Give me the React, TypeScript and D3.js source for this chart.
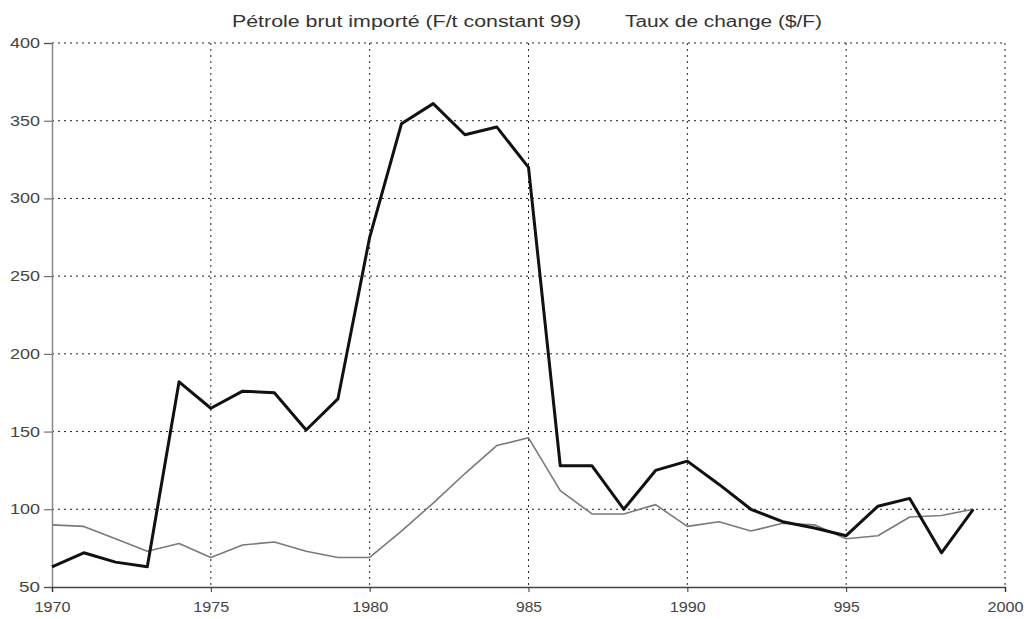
import React, { useEffect, useRef } from 'react';
import * as d3 from 'd3';

const years = [
  1970, 1971, 1972, 1973, 1974, 1975, 1976, 1977, 1978, 1979,
  1980, 1981, 1982, 1983, 1984, 1985, 1986, 1987, 1988, 1989,
  1990, 1991, 1992, 1993, 1994, 1995, 1996, 1997, 1998, 1999,
];

// Pétrole brut importé (F/t constant 99)
const petrole = [
  63, 72, 66, 63, 182, 165, 176, 175, 151, 171,
  275, 348, 361, 341, 346, 320, 128, 128, 100, 125,
  131, 116, 100, 92, 88, 83, 102, 107, 72, 100,
];

// Taux de change ($/F)
const taux = [
  90, 89, 81, 73, 78, 69, 77, 79, 73, 69,
  69, 86, 104, 123, 141, 146, 112, 97, 97, 103,
  89, 92, 86, 91, 90, 81, 83, 95, 96, 100,
];

const xTicks = [1970, 1975, 1980, 1985, 1990, 1995, 2000];
const xTickLabels = ['1970', '1975', '1980', '985', '1990', '995', '2000'];
const yTicks = [50, 100, 150, 200, 250, 300, 350, 400];
const seriesNames = ['Pétrole brut importé (F/t constant 99)', 'Taux de change ($/F)'];

const App: React.FC = () => {
  const svgRef = useRef<SVGSVGElement>(null);
  const width = 1027;
  const height = 619;

  useEffect(() => {
    if (!svgRef.current) return;
    const svg = d3.select(svgRef.current);
    svg.selectAll('*').remove();

    const font = '"Liberation Sans", Arial, sans-serif';
    const x = d3.scaleLinear().domain([1970, 2000]).range([52, 1005]);
    const y = d3.scaleLinear().domain([50, 400]).range([587, 43]);

    // grid lines
    svg.append('g')
      .selectAll('line')
      .data(yTicks.filter(d => d > 50))
      .enter().append('line')
      .attr('x1', x(1970))
      .attr('x2', x(2000))
      .attr('y1', d => y(d))
      .attr('y2', d => y(d))
      .attr('stroke', '#222')
      .attr('stroke-width', 1)
      .attr('stroke-dasharray', '2,4');

    svg.append('g')
      .selectAll('line')
      .data(xTicks.filter(d => d > 1970))
      .enter().append('line')
      .attr('x1', d => x(d))
      .attr('x2', d => x(d))
      .attr('y1', y(400))
      .attr('y2', y(50))
      .attr('stroke', '#222')
      .attr('stroke-width', 1)
      .attr('stroke-dasharray', '2,4');

    // y axis
    const yAxis = svg.append('g')
      .attr('transform', `translate(${x(1970)},0)`)
      .call(d3.axisLeft(y).tickValues(yTicks).tickSize(8).tickPadding(4).tickFormat(d => String(d)));
    yAxis.select('.domain').attr('stroke', '#888').attr('stroke-width', 1.5);
    yAxis.selectAll('.tick line').attr('stroke', '#555');
    yAxis.selectAll('text')
      .attr('font-family', font)
      .attr('font-size', 14)
      .attr('fill', '#444')
      .attr('textLength', d => (String(d).length === 3 ? 30 : 21))
      .attr('lengthAdjust', 'spacingAndGlyphs');

    // x axis
    const xAxis = svg.append('g')
      .attr('transform', `translate(0,${y(50)})`)
      .call(d3.axisBottom(x).tickValues(xTicks).tickSize(5).tickPadding(10)
        .tickFormat((d, i) => xTickLabels[i]));
    xAxis.select('.domain').attr('stroke', '#444').attr('stroke-width', 1.5);
    xAxis.selectAll('.tick line').attr('stroke', '#333');
    xAxis.selectAll('text')
      .attr('font-family', font)
      .attr('font-size', 14)
      .attr('fill', '#444')
      .attr('textLength', (_, i) => (xTickLabels[i].length === 4 ? 36 : 26))
      .attr('lengthAdjust', 'spacingAndGlyphs');

    const line = d3.line<number>()
      .x((_, i) => x(years[i]))
      .y(d => y(d));

    svg.append('path')
      .datum(taux)
      .attr('fill', 'none')
      .attr('stroke', '#7a7a7a')
      .attr('stroke-width', 1.6)
      .attr('stroke-linejoin', 'round')
      .attr('d', line);

    svg.append('path')
      .datum(petrole)
      .attr('fill', 'none')
      .attr('stroke', '#111')
      .attr('stroke-width', 3)
      .attr('stroke-linejoin', 'round')
      .attr('d', line);

    // legend (text only)
    const legendPos = [{ x: 232, w: 349 }, { x: 625, w: 197 }];
    seriesNames.forEach((name, i) => {
      svg.append('text')
        .attr('x', legendPos[i].x)
        .attr('y', 27)
        .attr('font-family', font)
        .attr('font-size', 16)
        .attr('fill', '#333')
        .attr('textLength', legendPos[i].w)
        .attr('lengthAdjust', 'spacingAndGlyphs')
        .text(name);
    });
  }, []);

  return (
    <svg
      ref={svgRef}
      width={width}
      height={height}
      style={{ position: 'absolute', left: 0, top: 0, background: '#fff' }}
    />
  );
};

export default App;
